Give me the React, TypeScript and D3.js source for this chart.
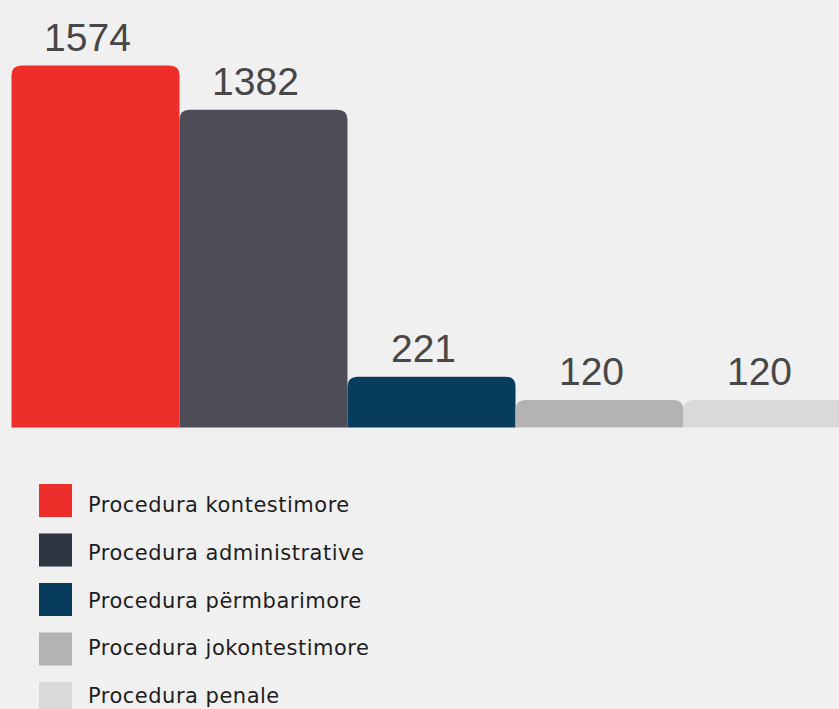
import { useEffect, useRef } from "react";
import * as d3 from "d3";

const categories = [
  "Procedura kontestimore",
  "Procedura administrative",
  "Procedura përmbarimore",
  "Procedura jokontestimore",
  "Procedura penale",
];
const values = [1574, 1382, 221, 120, 120];
const barColors = ["#ee2e2a", "#4d4d57", "#083c5c", "#b3b3b3", "#d9d9d9"];
const legendColors = ["#ee2e2a", "#2e3540", "#083c5c", "#b3b3b3", "#d9d9d9"];

const App = () => {
  const ref = useRef<SVGSVGElement>(null);

  useEffect(() => {
    document.body.style.margin = "0";
    const svg = d3.select(ref.current);
    svg.selectAll("*").remove();

    const width = 839;
    const height = 709;

    svg.append("rect").attr("width", width).attr("height", height).attr("fill", "#f0f0f0");

    const x = d3
      .scaleBand()
      .domain(categories)
      .range([11.5, 11.5 + 168 * categories.length])
      .padding(0);

    const y = d3.scaleLinear().domain([0, 1574]).range([427.5, 65.5]);

    const r = 10;
    const topRounded = (x0: number, y0: number, w: number, h: number) => {
      const p = d3.path();
      const rr = Math.min(r, h, w / 2);
      p.moveTo(x0, y0 + h);
      p.lineTo(x0, y0 + rr);
      p.quadraticCurveTo(x0, y0, x0 + rr, y0);
      p.lineTo(x0 + w - rr, y0);
      p.quadraticCurveTo(x0 + w, y0, x0 + w, y0 + rr);
      p.lineTo(x0 + w, y0 + h);
      p.closePath();
      return p.toString();
    };

    const g = svg.append("g");

    g.selectAll("path.bar")
      .data(values)
      .join("path")
      .attr("class", "bar")
      .attr("fill", (_d, i) => barColors[i])
      .attr("d", (d, i) =>
        topRounded(x(categories[i])!, y(d), x.bandwidth(), y(0) - y(d))
      );

    g.selectAll("text.value")
      .data(values)
      .join("text")
      .attr("class", "value")
      .attr("x", (_d, i) => x(categories[i])! + x.bandwidth() / 2 - 8)
      .attr("y", (d) => y(d) - 15)
      .attr("text-anchor", "middle")
      .attr("font-family", "'Liberation Sans', Arial, sans-serif")
      .attr("font-size", 39)
      .attr("fill", "#474747")
      .text((d) => d);

    // legend
    const legend = svg.append("g");
    legend
      .selectAll("rect")
      .data(categories)
      .join("rect")
      .attr("x", 39)
      .attr("y", (_d, i) => 484 + 49.5 * i)
      .attr("width", 33)
      .attr("height", 33)
      .attr("fill", (_d, i) => legendColors[i]);

    legend
      .selectAll("text")
      .data(categories)
      .join("text")
      .attr("x", 88)
      .attr("y", (_d, i) => 512 + 47.75 * i)
      .attr("font-family", "'DejaVu Sans', sans-serif")
      .attr("font-size", 21)
      .attr("letter-spacing", 0.5)
      .attr("fill", "#1e1e1e")
      .text((d) => d);
  }, []);

  return <svg ref={ref} width={839} height={709} style={{ display: "block" }}></svg>;
};

export default App;
